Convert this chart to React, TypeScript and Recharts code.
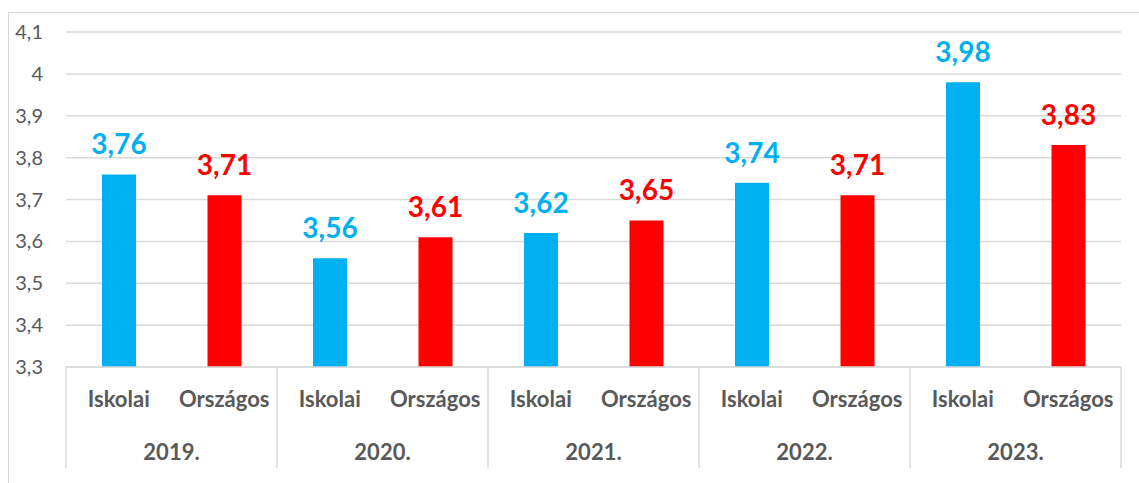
import React from 'react';
import { BarChart, Bar, XAxis, YAxis, CartesianGrid, Cell, LabelList } from 'recharts';

const years = ['2019.', '2020.', '2021.', '2022.', '2023.'];
const seriesNames = ['Iskolai', 'Országos'];
const iskolai = [3.76, 3.56, 3.62, 3.74, 3.98];
const orszagos = [3.71, 3.61, 3.65, 3.71, 3.83];
const yTicks = [3.3, 3.4, 3.5, 3.6, 3.7, 3.8, 3.9, 4, 4.1];

const COLORS = ['#00b0f0', '#ff0000'];
const FONT = 'Lato, "Open Sans", sans-serif';
const W = 1139;
const H = 483;
const M = { top: 32, right: 18, left: 0, bottom: 0 };
const Y_AXIS_W = 66;
const BAND = (W - M.right - Y_AXIS_W) / (years.length * 2);

// one row per bar: year, series name, value
const data = years.flatMap((year, i) => [
  { year, name: seriesNames[0], value: iskolai[i], s: 0 },
  { year, name: seriesNames[1], value: orszagos[i], s: 1 },
]);

const fmt = (v: number) => String(v).replace('.', ',');

function CategoryTick(props: any) {
  const { x, y, payload, index } = props;
  const row = data[index];
  return (
    <g>
      <text x={x} y={y + 40} textAnchor="middle" fill="#595959" fontFamily={FONT} fontWeight="bold" fontSize={22}>
        {payload.value}
      </text>
      {index % 2 === 0 && (
        <>
          <text x={x + BAND / 2} y={y + 93} textAnchor="middle" fill="#595959" fontFamily={FONT} fontWeight="bold" fontSize={22}>
            {row.year}
          </text>
          <line x1={x - BAND / 2} x2={x - BAND / 2} y1={y} y2={y + 101} stroke="#d9d9d9" strokeWidth={1.5} />
        </>
      )}
      {index === data.length - 1 && (
        <line x1={x + BAND / 2} x2={x + BAND / 2} y1={y} y2={y + 101} stroke="#d9d9d9" strokeWidth={1.5} />
      )}
    </g>
  );
}

function ValueLabel(props: any) {
  const { x, y, width, value, index } = props;
  return (
    <text x={x + width / 2} y={y - 20} textAnchor="middle" fill={COLORS[data[index].s]} fontFamily={FONT} fontWeight="bold" fontSize={28}>
      {fmt(value)}
    </text>
  );
}

export default function App() {
  return (
    <div style={{ position: 'absolute', left: 0, top: 0, width: W, height: H, background: '#fff', overflow: 'hidden' }}>
      <div style={{ position: 'absolute', left: 8, top: 12, width: W, height: H, border: '1px solid #d9d9d9' }} />
      <div style={{ position: 'absolute', left: 0, top: 0 }}>
        <BarChart width={W} height={H} data={data} margin={M}>
          <CartesianGrid vertical={false} stroke="#d9d9d9" strokeWidth={1.5} />
          <XAxis
            dataKey="name"
            interval={0}
            height={H - 367}
            tickLine={false}
            tickSize={0}
            tickMargin={0}
            axisLine={{ stroke: '#d9d9d9', strokeWidth: 1.5 }}
            tick={<CategoryTick />}
          />
          <YAxis
            domain={[3.3, 4.1]}
            ticks={yTicks}
            width={Y_AXIS_W}
            axisLine={false}
            tickLine={false}
            tickSize={0}
            tickMargin={23}
            tickFormatter={fmt}
            tick={{ fill: '#595959', fontFamily: FONT, fontSize: 20 }}
          />
          <Bar dataKey="value" barSize={34} isAnimationActive={false}>
            {data.map((d, i) => (
              <Cell key={`cell-${i}`} fill={COLORS[d.s]} />
            ))}
            <LabelList dataKey="value" content={<ValueLabel />} />
          </Bar>
        </BarChart>
      </div>
    </div>
  );
}
